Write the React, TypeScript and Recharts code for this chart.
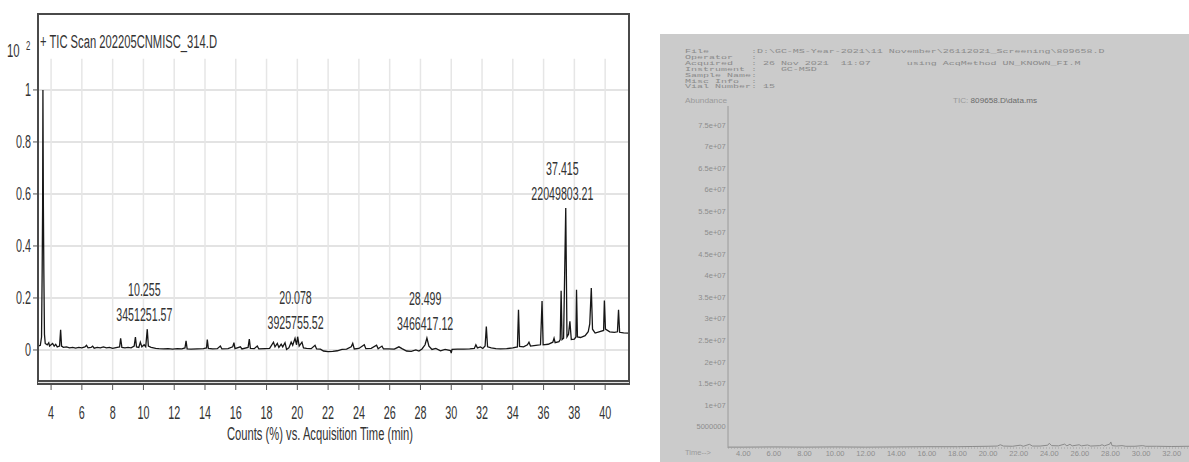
import React from "react";
import {
  LineChart,
  Line,
  XAxis,
  YAxis,
  CartesianGrid,
  ReferenceLine,
  ReferenceDot,
} from "recharts";

// ---- left panel: TIC scan (counts in units of 10^2 %) ----
const ticTime = [
  3.15, 3.3, 3.38, 3.42, 3.45, 3.47, 3.5, 3.53, 3.57, 3.62, 3.75, 3.85, 3.9, 4.0, 4.1, 4.2, 4.3, 4.4,
  4.55, 4.62, 4.68, 4.8, 5.0, 5.2, 5.4, 5.6, 5.8, 6.0, 6.2, 6.3, 6.4, 6.6, 6.7, 6.8, 7.0, 7.2, 7.4,
  7.6, 7.8, 8.0, 8.3, 8.45, 8.52, 8.6, 8.8, 9.0, 9.2, 9.4, 9.48, 9.55, 9.7, 9.8, 9.9, 10.05, 10.15,
  10.25, 10.32, 10.5, 10.8, 11.0, 11.3, 11.6, 11.9, 12.2, 12.5, 12.7, 12.77, 12.84, 13.1, 13.5, 13.9,
  14.1, 14.15, 14.22, 14.5, 14.8, 15.0, 15.1, 15.5, 15.8, 15.88, 15.95, 16.3, 16.4, 16.8, 16.88,
  16.95, 17.2, 17.4, 17.5, 17.9, 18.2, 18.45, 18.55, 18.7, 18.8, 18.95, 19.05, 19.2, 19.3, 19.45,
  19.6, 19.7, 19.85, 19.95, 20.02, 20.12, 20.3, 20.4, 20.6, 20.9, 21.15, 21.25, 21.5, 21.7, 22.0,
  22.3, 22.6, 22.9, 23.2, 23.5, 23.6, 23.7, 24.0, 24.35, 24.45, 24.8, 25.15, 25.25, 25.5, 25.6, 25.9,
  26.3, 26.6, 26.8, 27.1, 27.4, 27.7, 27.9, 28.1, 28.3, 28.42, 28.55, 28.75, 29.0, 29.3, 29.6, 29.95,
  30.0, 30.05, 30.4, 30.8, 31.2, 31.5, 31.6, 31.7, 31.9, 32.05, 32.2, 32.28, 32.36, 32.6, 32.9, 33.2,
  33.6, 34.0, 34.3, 34.37, 34.44, 34.7, 34.95, 35.05, 35.15, 35.5, 35.8, 35.9, 35.97, 36.3, 36.6,
  36.68, 36.75, 37.0, 37.08, 37.14, 37.2, 37.3, 37.44, 37.52, 37.62, 37.71, 37.8, 38.0, 38.1, 38.14,
  38.2, 38.4, 38.7, 38.9, 39.0, 39.1, 39.18, 39.35, 39.6, 39.9, 39.95, 40.02, 40.3, 40.6, 40.8, 40.87,
  40.94, 41.2, 41.55,
];
const ticCounts = [
  0.015, 0.018, 0.05, 0.3, 0.55, 1.0, 0.55, 0.3, 0.06, 0.025, 0.02, 0.028, 0.015, 0.02, 0.025, 0.015,
  0.022, 0.012, 0.015, 0.078, 0.015, 0.01, 0.012, 0.008, 0.01, 0.007, 0.01, 0.008, 0.012, 0.018,
  0.008, 0.01, 0.015, 0.007, 0.01, 0.008, 0.012, 0.008, 0.01, 0.006, 0.01, 0.012, 0.045, 0.01, 0.008,
  0.01, 0.008, 0.015, 0.05, 0.012, 0.01, 0.03, 0.012, 0.02, 0.012, 0.08, 0.015, 0.01, 0.006, 0.005,
  0.004, 0.005, 0.003, 0.005, 0.004, 0.008, 0.035, 0.004, 0.003, 0.004, 0.005, 0.008, 0.04, 0.006,
  0.004, 0.005, 0.015, 0.004, 0.005, 0.012, 0.028, 0.005, 0.012, 0.004, 0.01, 0.042, 0.006, 0.005,
  0.015, 0.004, 0.005, 0.006, 0.03, 0.012, 0.025, 0.01, 0.022, 0.012, 0.028, 0.002, 0.008, 0.03,
  0.018, 0.045, 0.02, 0.051, 0.015, 0.03, 0.008, 0.006, 0.005, 0.018, 0.004, 0.003, -0.004, -0.006,
  -0.005, -0.003, 0.002, 0.003, 0.012, 0.025, 0.004, 0.006, 0.02, 0.005, 0.006, 0.018, 0.005, 0.015,
  0.004, 0.004, 0.003, 0.012, 0.005, -0.004, -0.005, 0.0, -0.004, 0.004, 0.02, 0.046, 0.015, 0.002,
  0.006, -0.003, 0.002, -0.002, -0.012, 0.002, 0.003, 0.003, 0.004, 0.006, 0.02, 0.008, 0.012, 0.006,
  0.015, 0.09, 0.012, 0.008, 0.005, 0.004, 0.005, 0.008, 0.012, 0.155, 0.014, 0.012, 0.02, 0.03,
  0.015, 0.018, 0.02, 0.188, 0.02, 0.022, 0.03, 0.045, 0.028, 0.032, 0.04, 0.228, 0.04, 0.045, 0.546,
  0.05, 0.06, 0.11, 0.04, 0.042, 0.05, 0.232, 0.05, 0.048, 0.055, 0.07, 0.1, 0.238, 0.08, 0.065, 0.07,
  0.075, 0.19, 0.08, 0.07, 0.068, 0.07, 0.155, 0.068, 0.066, 0.065,
];
const ticTimeTicks = [4, 6, 8, 10, 12, 14, 16, 18, 20, 22, 24, 26, 28, 30, 32, 34, 36, 38, 40];
const ticCountTicks = [0, 0.2, 0.4, 0.6, 0.8, 1];
const peakRt = ["10.255", "20.078", "28.499", "37.415"];
const peakArea = ["3451251.57", "3925755.52", "3466417.12", "22049803.21"];
const peakApex = [0.08, 0.051, 0.046, 0.546];

// ---- right panel: ChemStation printout ----
const scanTime = [
  3.0, 4.0, 6.0, 8.0, 10.0, 12.0, 14.0, 16.0, 18.0, 19.0, 20.0, 20.6, 20.8, 21.0, 21.6, 22.1, 22.3,
  22.7, 22.9, 23.4, 23.9, 24.0, 24.15, 24.6, 25.0, 25.15, 25.35, 25.5, 25.95, 26.1, 26.5, 26.7, 27.3,
  27.45, 27.6, 27.95, 28.02, 28.1, 28.4, 28.75, 29.0, 29.6, 30.1, 30.3, 31.0, 32.0, 33.13,
];
const scanAbundance = [
  200000, 200000, 250000, 200000, 250000, 200000, 250000, 300000, 300000, 350000, 400000, 450000,
  750000, 450000, 400000, 650000, 400000, 850000, 450000, 450000, 650000, 1100000, 550000, 500000,
  900000, 500000, 850000, 500000, 750000, 500000, 700000, 450000, 550000, 750000, 500000, 900000,
  1400000, 550000, 450000, 550000, 400000, 400000, 550000, 400000, 400000, 350000, 400000,
];
const scanTimeTicks = [4, 6, 8, 10, 12, 14, 16, 18, 20, 22, 24, 26, 28, 30, 32];
const scanAbundanceTicks = [
  5000000, 10000000, 15000000, 20000000, 25000000, 30000000, 35000000, 40000000, 45000000,
  50000000, 55000000, 60000000, 65000000, 70000000, 75000000,
];
const headerLines = [
  "File       :D:\\GC-MS-Year-2021\\11 November\\26112021_Screening\\809658.D",
  "Operator   :",
  "Acquired   : 26 Nov 2021  11:07      using AcqMethod UN_KNOWN_FI.M",
  "Instrument :    GC-MSD",
  "Sample Name:",
  "Misc Info  :",
  "Vial Number: 15",
];

const ticData = ticTime.map((t, i) => ({ t, counts: ticCounts[i] }));
const scanData = scanTime.map((t, i) => ({ t, abundance: scanAbundance[i] }));

const SANS = "'Liberation Sans', Arial, sans-serif";

function Squeezed({ x, y, anchor = "middle", size = 18, squeeze = 0.6, fill = "#333", children }: any) {
  return (
    <text
      transform={`translate(${x},${y}) scale(${squeeze},1)`}
      textAnchor={anchor}
      fontSize={size}
      fontFamily={SANS}
      fill={fill}
    >
      {children}
    </text>
  );
}

const TicXTick = ({ x, y, payload }: any) => (
  <Squeezed x={x} y={y + 27}>
    {payload.value}
  </Squeezed>
);
const TicYTick = ({ x, y, payload }: any) => (
  <Squeezed x={x} y={y + 6.5} anchor="end">
    {payload.value}
  </Squeezed>
);

const ScanXTick = ({ x, y, payload }: any) => (
  <text x={x} y={y + 5.5} textAnchor="middle" fontSize={7.5} fontFamily={SANS} fill="#8d8d8d">
    {payload.value.toFixed(2)}
  </text>
);
const ScanYTick = ({ x, y, payload }: any) => {
  const v = payload.value as number;
  const label = v >= 10000000 ? `${v / 10000000}e+07` : String(v);
  return (
    <text x={x} y={y + 2.7} textAnchor="end" fontSize={7.5} fontFamily={SANS} fill="#8d8d8d">
      {label}
    </text>
  );
};

function TicChart() {
  return (
    <LineChart
      width={640}
      height={462}
      data={ticData}
      margin={{ top: 14, right: 11, bottom: 0, left: 0 }}
    >
      <CartesianGrid vertical={false} stroke="#e3e3e3" strokeWidth={2} />
      {ticTimeTicks.map((t) => (
        <ReferenceLine
          key={t}
          segment={[
            { x: t, y: 1.12 },
            { x: t, y: -0.127 },
          ]}
          stroke="#e6e6e6"
          strokeWidth={1.5}
        />
      ))}
      <XAxis
        dataKey="t"
        type="number"
        domain={[3.15, 41.55]}
        allowDataOverflow
        ticks={ticTimeTicks}
        interval={0}
        height={79}
        axisLine={false}
        tickSize={7}
        tickMargin={2}
        tickLine={{ stroke: "#555" }}
        tick={<TicXTick />}
      />
      <YAxis
        type="number"
        domain={[-0.127, 1.292]}
        allowDataOverflow
        ticks={ticCountTicks}
        interval={0}
        width={38}
        axisLine={false}
        tickSize={5}
        tickMargin={2}
        tickLine={{ stroke: "#555" }}
        tick={<TicYTick />}
      />
      <Line
        dataKey="counts"
        type="linear"
        stroke="#161616"
        strokeWidth={1.3}
        dot={false}
        isAnimationActive={false}
      />
      {peakRt.map((rt, i) => (
        <ReferenceDot
          key={rt}
          x={Number(rt)}
          y={peakApex[i]}
          r={0}
          ifOverflow="visible"
          shape={(p: any) => (
            <g>
              <Squeezed x={p.cx - 3} y={p.cy - 33} size={19} squeeze={0.56}>
                {rt}
              </Squeezed>
              <Squeezed x={p.cx - 3} y={p.cy - 8} size={19} squeeze={0.56}>
                {peakArea[i]}
              </Squeezed>
            </g>
          )}
        />
      ))}
    </LineChart>
  );
}

function ScanChart() {
  return (
    <LineChart
      width={529}
      height={428}
      data={scanData}
      margin={{ top: 72, right: 0, bottom: 0, left: 0 }}
    >
      <XAxis
        dataKey="t"
        type="number"
        domain={[3, 33.13]}
        allowDataOverflow
        ticks={scanTimeTicks}
        interval={0}
        height={14}
        axisLine={{ stroke: "#a0a0a0", strokeDasharray: "1 2" }}
        tickLine={false}
        tickSize={0}
        tickMargin={2}
        tick={<ScanXTick />}
      />
      <YAxis
        type="number"
        domain={[0, 79400000]}
        allowDataOverflow
        ticks={scanAbundanceTicks}
        interval={0}
        width={68}
        axisLine={{ stroke: "#9a9a9a" }}
        tickLine={false}
        tickSize={0}
        tickMargin={2.3}
        tick={<ScanYTick />}
      />
      <Line
        dataKey="abundance"
        type="linear"
        stroke="#8a8a8a"
        strokeWidth={1}
        dot={false}
        isAnimationActive={false}
      />
    </LineChart>
  );
}

export default function App() {
  return (
    <div
      style={{
        position: "absolute",
        left: 0,
        top: 0,
        width: 1189,
        height: 462,
        background: "#ffffff",
        overflow: "hidden",
      }}
    >
      <div
        style={{
          position: "absolute",
          left: 660,
          top: 34,
          width: 529,
          height: 428,
          background: "#cbcbcb",
        }}
      />
      <div style={{ position: "absolute", left: 0, top: 0 }}>
        <TicChart />
      </div>
      <div style={{ position: "absolute", left: 660, top: 34 }}>
        <ScanChart />
      </div>
      <div
        style={{
          position: "absolute",
          left: 37,
          top: 13,
          width: 593,
          height: 372,
          boxSizing: "border-box",
          borderTop: "2px solid #4a4a4a",
          borderLeft: "2px solid #4a4a4a",
          borderRight: "2px solid #4a4a4a",
          borderBottom: "5px double #4a4a4a",
          pointerEvents: "none",
        }}
      />
      <svg
        width={1189}
        height={462}
        style={{ position: "absolute", left: 0, top: 0, pointerEvents: "none" }}
      >
        <Squeezed x={7} y={57} anchor="start" size={19}>
          10
        </Squeezed>
        <Squeezed x={26} y={50} anchor="start" size={13}>
          2
        </Squeezed>
        <text
          x={40}
          y={48}
          fontSize={18}
          fontFamily={SANS}
          fill="#333"
          textLength={177}
          lengthAdjust="spacingAndGlyphs"
        >
          + TIC Scan 202205CNMISC_314.D
        </text>
        <text
          x={227}
          y={440}
          fontSize={18}
          fontFamily={SANS}
          fill="#333"
          textLength={186}
          lengthAdjust="spacingAndGlyphs"
        >
          Counts (%) vs. Acquisition Time (min)
        </text>

        {headerLines.map((line, i) => (
          <text
            key={i}
            transform={`translate(685,${53 + i * 5.9}) scale(1,0.6)`}
            fontSize={10}
            fontFamily="'Liberation Mono', 'DejaVu Sans Mono', monospace"
            fill="#8a8a8a"
            style={{ whiteSpace: "pre" }}
          >
            {line}
          </text>
        ))}
        <text
          x={685}
          y={103}
          fontSize={7}
          fontFamily={SANS}
          fill="#9a9a9a"
          textLength={42}
          lengthAdjust="spacingAndGlyphs"
        >
          Abundance
        </text>
        <text
          x={953}
          y={103}
          fontSize={7.5}
          fontFamily={SANS}
          fill="#6a6a6a"
          textLength={84}
          lengthAdjust="spacingAndGlyphs"
        >
          <tspan fill="#9a9a9a">TIC: </tspan>809658.D\data.ms
        </text>
        <text x={685} y={455.3} fontSize={7.5} fontFamily={SANS} fill="#9a9a9a">
          Time--&gt;
        </text>
      </svg>
    </div>
  );
}
